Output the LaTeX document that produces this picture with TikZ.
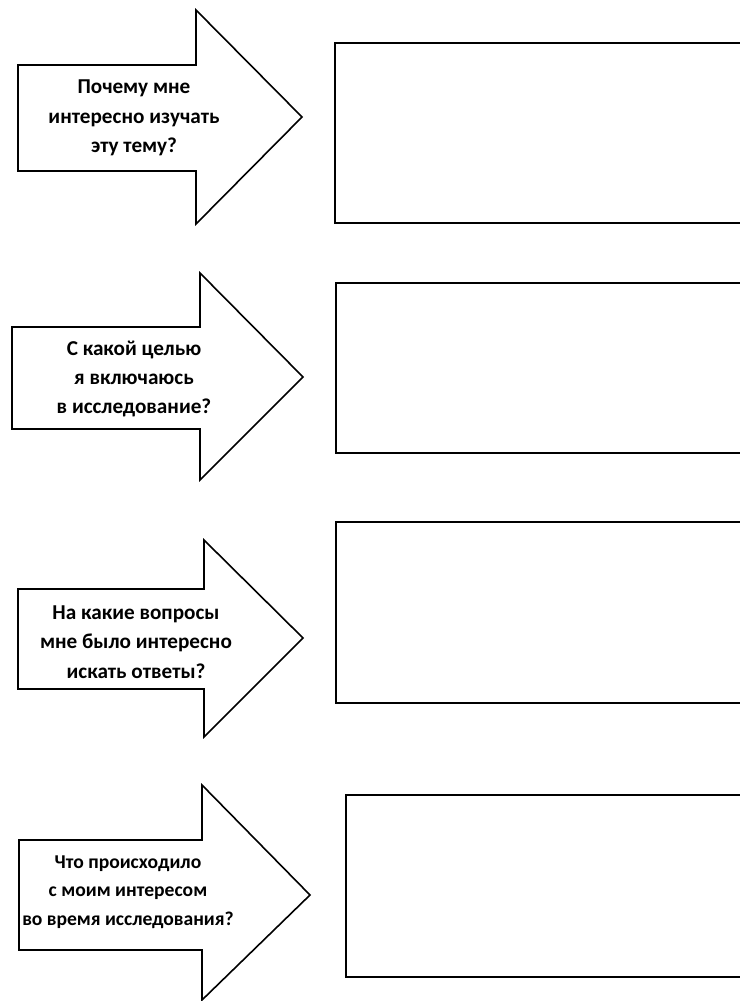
\documentclass[tikz,border=0pt]{standalone}
\usepackage{fontspec}
\setmainfont{Carlito}
\usetikzlibrary{positioning}

\begin{document}
\begin{tikzpicture}[x=0.75pt, y=-0.75pt,
	arrowline/.style={draw, line width=1.2pt, line join=miter},
	answerbox/.style={draw, line width=1.8pt},
	question/.style={align=center, inner sep=0pt,
		font=\bfseries\fontsize{15.9}{22}\selectfont}]
	
	\clip (0,0) rectangle (740,1001);
	
	% why is it interesting
	\draw[arrowline] (18,65) -- (196,65) -- (196,10) -- (302,117) -- (196,224) -- (196,171) -- (18,171) -- cycle;
	\node[question] (why) at (134,118) {Почему мне\\интересно изучать\\эту тему?};
	\draw[answerbox] (335,43) rectangle (760,223);
	
	% aim
	\draw[arrowline] (12,327) -- (200,327) -- (200,273) -- (303,377) -- (200,480) -- (200,429) -- (12,429) -- cycle;
	\node[question] (aim) at (134,379) {С какой целью\\я включаюсь\\в исследование?};
	\draw[answerbox] (336,283) rectangle (760,453);
	
	% questions
	\draw[arrowline] (18,589) -- (204,589) -- (204,540) -- (303,638) -- (204,737) -- (204,689) -- (18,689) -- cycle;
	\node[question] (quest) at (136,642) {На какие вопросы\\мне было интересно\\искать ответы?};
	\draw[answerbox] (336,522) rectangle (760,703);
	
	% interest during research
	\draw[arrowline] (19,840) -- (202,840) -- (202,785) -- (310,895) -- (202,1000) -- (202,950) -- (19,950) -- cycle;
	\node[question, font=\bfseries\fontsize{14.7}{21.5}\selectfont] (interest) at (128,892) {Что происходило\\с моим интересом\\во время исследования?};
	\draw[answerbox] (346,795) rectangle (760,977);
	
\end{tikzpicture}
\end{document}
